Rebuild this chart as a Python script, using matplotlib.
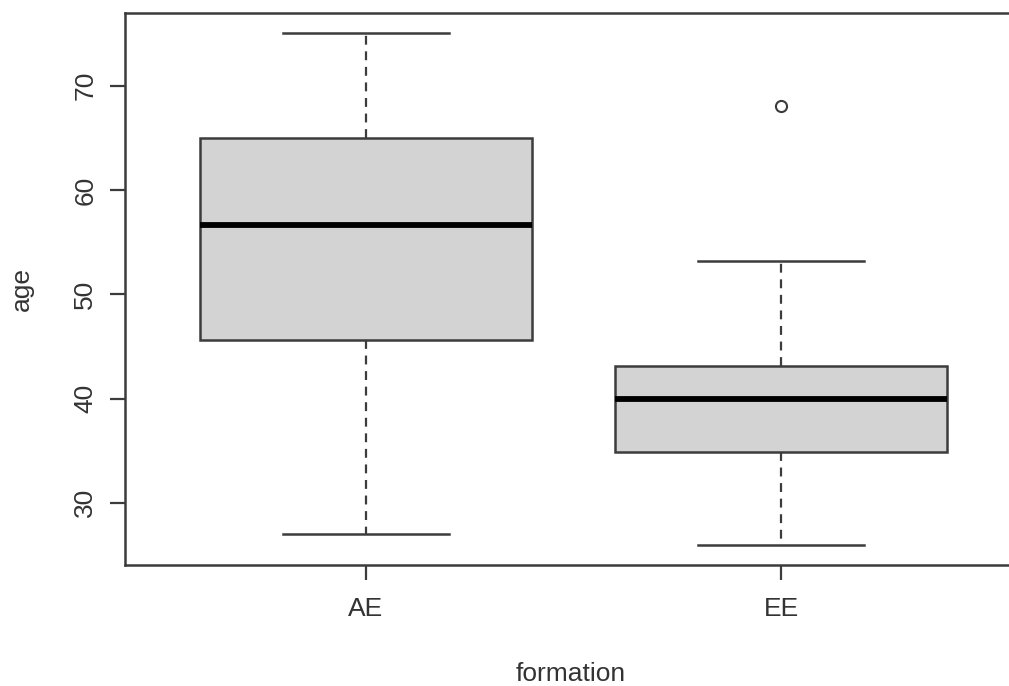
import matplotlib
matplotlib.use("Agg")
import matplotlib.pyplot as plt

# box stats
groups = ["AE", "EE"]
low_whisker = [27, 26]
q1 = [45.6, 34.9]
median = [56.6, 40]
q3 = [65, 43.1]
high_whisker = [75, 53.2]
outliers = [[], [68]]

plt.rcParams['font.family'] = ['Liberation Sans', 'DejaVu Sans']
line_col = "#3c3c3c"
text_col = "#333333"

stats = []
for i in range(len(groups)):
    stats.append({"label": groups[i], "whislo": low_whisker[i], "q1": q1[i],
                  "med": median[i], "q3": q3[i], "whishi": high_whisker[i],
                  "fliers": outliers[i]})

fig = plt.figure(figsize=(10.09, 6.86), dpi=100)
ax = fig.add_axes([125/1009, 1-565/686, 897/1009, (565-13)/686])

ax.bxp(stats, positions=[1, 2], widths=0.8, capwidths=0.4, patch_artist=True,
       boxprops=dict(facecolor="#d3d3d3", edgecolor=line_col, linewidth=1.8),
       medianprops=dict(color="black", linewidth=4.2, solid_capstyle="butt"),
       whiskerprops=dict(color=line_col, linewidth=1.6, linestyle=(0, (4, 3))),
       capprops=dict(color=line_col, linewidth=1.8),
       flierprops=dict(marker="o", markersize=8, markerfacecolor="none",
                       markeredgecolor=line_col, markeredgewidth=1.5))

ax.set_xlim(0.42, 2.58)
ax.set_ylim(24.04, 76.96)
ax.set_yticks([30, 40, 50, 60, 70])
ax.set_xticks([1, 2])
ax.set_xticklabels(groups)

for side in ["left", "bottom", "top", "right"]:
    ax.spines[side].set_color(line_col)
    ax.spines[side].set_linewidth(1.8)

ax.tick_params(axis="both", direction="out", length=11, width=1.6, color=line_col,
               labelsize=19, labelcolor=text_col)
ax.tick_params(axis="y", pad=9)
ax.tick_params(axis="x", pad=12)
for lab in ax.get_yticklabels():
    lab.set_rotation(90)
    lab.set_va("center")

ax.set_xlabel("formation", fontsize=19, color=text_col)
ax.set_ylabel("age", fontsize=19, color=text_col)
ax.xaxis.set_label_coords((571-125)/897, (565-674)/552)
ax.yaxis.set_label_coords((22-125)/897, 0.5)
ax.xaxis.label.set_va("center")
ax.yaxis.label.set_va("center")

fig.savefig("out.png", dpi=100)
